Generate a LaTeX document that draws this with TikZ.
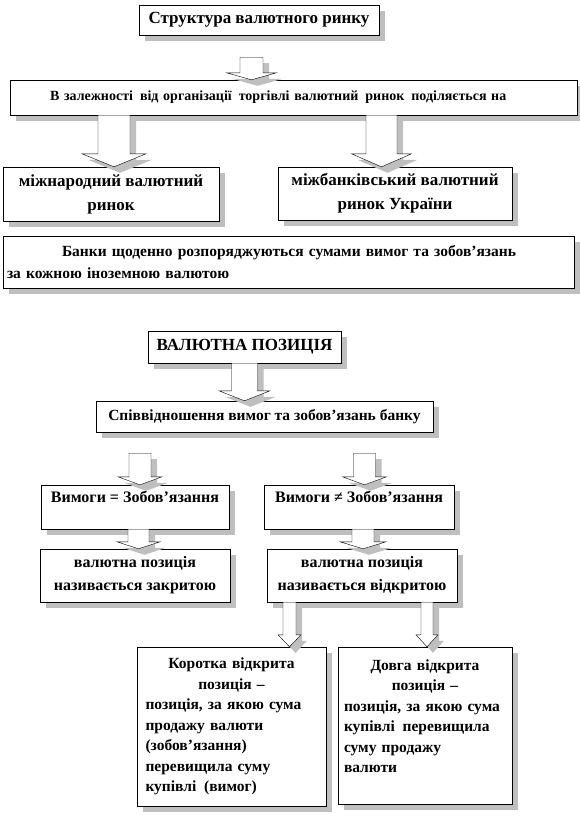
\documentclass[tikz,border=0pt]{standalone}
\usepackage{fontspec}
\setmainfont{Liberation Serif}
\usetikzlibrary{calc,shadows,positioning}
\newcommand{\fs}[2]{\fontsize{#1}{#2}\selectfont\bfseries}
\newcommand{\lift}[1]{\par\vspace*{#1}\hrule height 0pt}
% block arrow: start, tip, half shaft, half head, head length
\newcommand{\fatarrow}[5]{%
  \path[fat] let \p1=(#1), \p2=(#2) in
    (\x1-#3,\y1) -- (\x1-#3,\y2+#5) -- (\x1-#4,\y2+#5) -- (\x1,\y2)
    -- (\x1+#4,\y2+#5) -- (\x1+#3,\y2+#5) -- (\x1+#3,\y1) -- cycle;}

\begin{document}
\begin{tikzpicture}[x=1pt,y=-1pt,
  shade/.style={drop shadow={shadow xshift=6pt,shadow yshift=-6pt,fill=gray!50,opacity=1}},
  box/.style={draw,thin,fill=white,inner sep=0pt,shade},
  fat/.style={draw,thin,fill=white,shade}]
\useasboundingbox (0,0) rectangle (579,817);

% part 1
\node[box,minimum width=240,minimum height=30,font=\fs{17}{20}] (title) at (259,20) {Структура валютного ринку};
\node[box,minimum width=567,minimum height=35,font=\fs{14}{17},text width=547,align=left] (intro) at (293.5,97.5)
  {\hspace*{30pt}В залежності \,від організації \,торгівлі валютний \,ринок \,поділяється на};
\node[box,minimum width=216,minimum height=54,font=\fs{17}{24},align=center] (intl) at (111,194)
  {міжнародний валютний\\ринок};
\node[box,minimum width=234,minimum height=53,font=\fs{17}{24},align=center] (inter) at (395,193.5)
  {міжбанківський валютний\\ринок України};
\node[box,minimum width=571,minimum height=52,font=\fs{15.5}{22},text width=563,align=left] (banks) at (288.5,262)
  {\hspace*{55pt}Банки щоденно розпоряджуються сумами вимог та зобов’язань\\за кожною іноземною валютою};

\fatarrow{$(title.south)+(-7.5,22)$}{intro.north}{11.5pt}{25pt}{7pt}
\fatarrow{$(intl.north |- intro.south)+(3,0)$}{intl.north}{16pt}{32pt}{13pt}
\fatarrow{$(inter.north |- intro.south)+(-13.5,0)$}{inter.north}{15.5pt}{30pt}{13pt}

% part 2
\node[box,minimum width=193,minimum height=32,font=\fs{17}{20}] (pos) at (244.5,347) {ВАЛЮТНА ПОЗИЦІЯ};
\node[box,minimum width=337,minimum height=31,font=\fs{15.5}{18}] (ratio) at (264.5,416.5) {Співвідношення вимог та зобов’язань банку};
\node[box,minimum width=188,minimum height=44,font=\fs{16}{20},align=center] (eq) at (135,507) {Вимоги = Зобов’язання\\\mbox{}};
\node[box,minimum width=190,minimum height=44,font=\fs{16}{20},align=center] (neq) at (359,507) {Вимоги ≠ Зобов’язання\\\mbox{}};
\node[box,minimum width=190,minimum height=53,font=\fs{16}{23},align=center] (closed) at (135,575.5) {валютна позиція\\називається закритою};
\node[box,minimum width=190,minimum height=53,font=\fs{16}{23},align=center] (open) at (362,575.5) {валютна позиція\\називається відкритою};
\node[box,minimum width=189,minimum height=159,font=\fs{15.5}{20.5},text width=172] (short) at (231.5,726.5)
  {{\centering Коротка відкрита\\позиція –\par}\raggedright позиція, за якою сума\\продажу валюти\\(зобов’язання)\\перевищила суму\\купівлі \,(вимог)};
\node[box,minimum width=174,minimum height=157,font=\fs{15.5}{20.5},text width=162] (long) at (425,725.5)
  {{\centering Довга відкрита\\позиція –\par}\raggedright позиція, за якою сума\\купівлі \,перевищила\\суму продажу\\валюти\lift{19pt}};

\fatarrow{pos.south}{ratio.north}{13pt}{25.5pt}{10pt}
\fatarrow{$(eq.north |- ratio.south)+(5,21)$}{eq.north}{11pt}{22pt}{8pt}
\fatarrow{$(neq.north |- ratio.south)+(5.5,21)$}{neq.north}{11pt}{22pt}{8pt}
\fatarrow{$(eq.south)+(3.5,0)$}{closed.north}{10.5pt}{21.5pt}{7pt}
\fatarrow{$(neq.south)+(4,0)$}{open.north}{11pt}{23pt}{7pt}
\fatarrow{$(open.south)+(-72.5,0)$}{short.north}{6.5pt}{11.5pt}{12pt}
\fatarrow{$(open.south)+(65,0)$}{long.north}{6pt}{11pt}{12pt}
\end{tikzpicture}
\end{document}
